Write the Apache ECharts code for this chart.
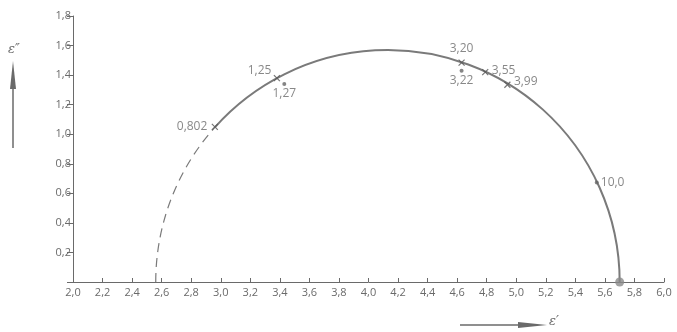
<!DOCTYPE html>
<html><head><meta charset="utf-8">
<script src="https://cdn.jsdelivr.net/npm/echarts@6/dist/echarts.min.js"></script>
<style>html,body{margin:0;padding:0;background:#fff}#c{width:677px;height:332px}</style>
</head><body><div id="c"></div>
<script>
// Data
const xTicks = ['2,0','2,2','2,4','2,6','2,8','3,0','3,2','3,4','3,6','3,8','4,0','4,2','4,4','4,6','4,8','5,0','5,2','5,4','5,6','5,8','6,0'];
const yTicks = ['0,2','0,4','0,6','0,8','1,0','1,2','1,4','1,6','1,8'];
const crossX = [2.96, 3.38, 4.63, 4.79, 4.94];
const crossY = [1.05, 1.38, 1.485, 1.42, 1.335];
const crossLabels = ['0,802', '1,25', '3,20', '3,55', '3,99'];
const dotX = [3.43, 4.63, 5.545];
const dotY = [1.34, 1.43, 0.673];
const dotLabels = ['1,27', '3,22', '10,0'];
const endPoint = [5.70, 0];
const arcLeft = 2.56;   // eps_inf (dashed start)
const arcRight = 5.70;  // eps_s
const arcSplit = [2.96, 1.05]; // dashed -> solid at the 0,802 point

const crossPos = ['left', 'left', 'top', 'right', 'right'];
const crossOff = [[0, 0], [2, -7], [0, 0], [-1, -2], [-1, -3]];
const dotPos = ['bottom', 'bottom', 'right'];

const FONT = '"Open Sans", sans-serif';
const GRAY = '#6a6a6a';

const chart = echarts.init(document.getElementById('c'));
chart.setOption({
  animation: false,
  backgroundColor: '#fff',
  grid: {left: 73, right: 13, top: 16, bottom: 50},
  xAxis: {
    type: 'value', min: 2, max: 6, interval: 0.2,
    axisLine: {show: true, lineStyle: {color: GRAY, width: 1}},
    axisTick: {show: true, inside: true, length: 4, lineStyle: {color: GRAY}},
    splitLine: {show: false},
    axisLabel: {color: GRAY, fontSize: 11, fontFamily: FONT, margin: 5,
      formatter: (v) => xTicks[Math.round((v - 2) / 0.2)]}
  },
  yAxis: {
    type: 'value', min: 0, max: 1.8, interval: 0.2,
    axisLine: {show: true, lineStyle: {color: GRAY, width: 1}},
    axisTick: {show: true, length: 6, lineStyle: {color: GRAY}},
    splitLine: {show: false},
    axisLabel: {color: GRAY, fontSize: 11, fontFamily: FONT, margin: 2,
      formatter: (v) => { const i = Math.round(v / 0.2); return i === 0 ? '' : yTicks[i - 1]; }}
  },
  graphic: [
    {type: 'text', left: 8, top: 43, style: {text: 'ε″', fill: GRAY, font: 'italic 13px "DejaVu Serif", serif'}},
    {type: 'line', shape: {x1: 13, y1: 80, x2: 13, y2: 148}, style: {stroke: GRAY, lineWidth: 1.5}},
    {type: 'polygon', shape: {points: [[13, 61], [10, 89], [16, 89]]}, style: {fill: GRAY}},
    {type: 'line', shape: {x1: 460, y1: 325, x2: 525, y2: 325}, style: {stroke: GRAY, lineWidth: 1.5}},
    {type: 'polygon', shape: {points: [[547, 325], [518, 322], [518, 328]]}, style: {fill: GRAY}},
    {type: 'text', left: 549, top: 315, style: {text: 'ε′', fill: GRAY, font: 'italic 13px "DejaVu Serif", serif'}}
  ],
  series: [
    {
      type: 'custom',
      data: [[arcLeft, arcRight, arcSplit[0], arcSplit[1]]],
      renderItem: function (params, api) {
        const l = api.value(0), r = api.value(1);
        const c = api.coord([(l + r) / 2, 0]);
        const rpx = api.size([(r - l) / 2, 0])[0];
        const p = api.coord([api.value(2), api.value(3)]);
        let a = Math.atan2(p[1] - c[1], p[0] - c[0]);
        if (a < 0) a += 2 * Math.PI;
        return {
          type: 'group',
          children: [
            {type: 'arc', shape: {cx: c[0], cy: c[1], r: rpx, startAngle: Math.PI, endAngle: a, clockwise: true},
             style: {stroke: '#7a7a7a', fill: 'none', lineWidth: 1.2, lineDash: [9, 6]}},
            {type: 'arc', shape: {cx: c[0], cy: c[1], r: rpx, startAngle: a, endAngle: 2 * Math.PI, clockwise: true},
             style: {stroke: '#7a7a7a', fill: 'none', lineWidth: 2}}
          ]
        };
      },
      silent: true, z: 1
    },
    {
      type: 'scatter', z: 3,
      symbol: 'path://M0,0L10,10M10,0L0,10', symbolSize: 6,
      itemStyle: {color: 'none', borderColor: '#555', borderWidth: 1.2},
      data: crossX.map((x, i) => ({
        value: [x, crossY[i]],
        label: {show: true, formatter: crossLabels[i], position: crossPos[i], offset: crossOff[i], distance: 2,
                color: GRAY, fontSize: 12, fontFamily: FONT}
      }))
    },
    {
      type: 'scatter', z: 3,
      symbol: 'circle', symbolSize: 4,
      itemStyle: {color: '#666'},
      data: dotX.map((x, i) => ({
        value: [x, dotY[i]],
        label: {show: true, formatter: dotLabels[i], position: dotPos[i], distance: 2,
                color: GRAY, fontSize: 12, fontFamily: FONT}
      }))
    },
    {
      type: 'scatter', z: 4,
      symbol: 'circle', symbolSize: 9,
      itemStyle: {color: '#8a8a8a'},
      data: [endPoint]
    }
  ]
});
</script></body></html>
